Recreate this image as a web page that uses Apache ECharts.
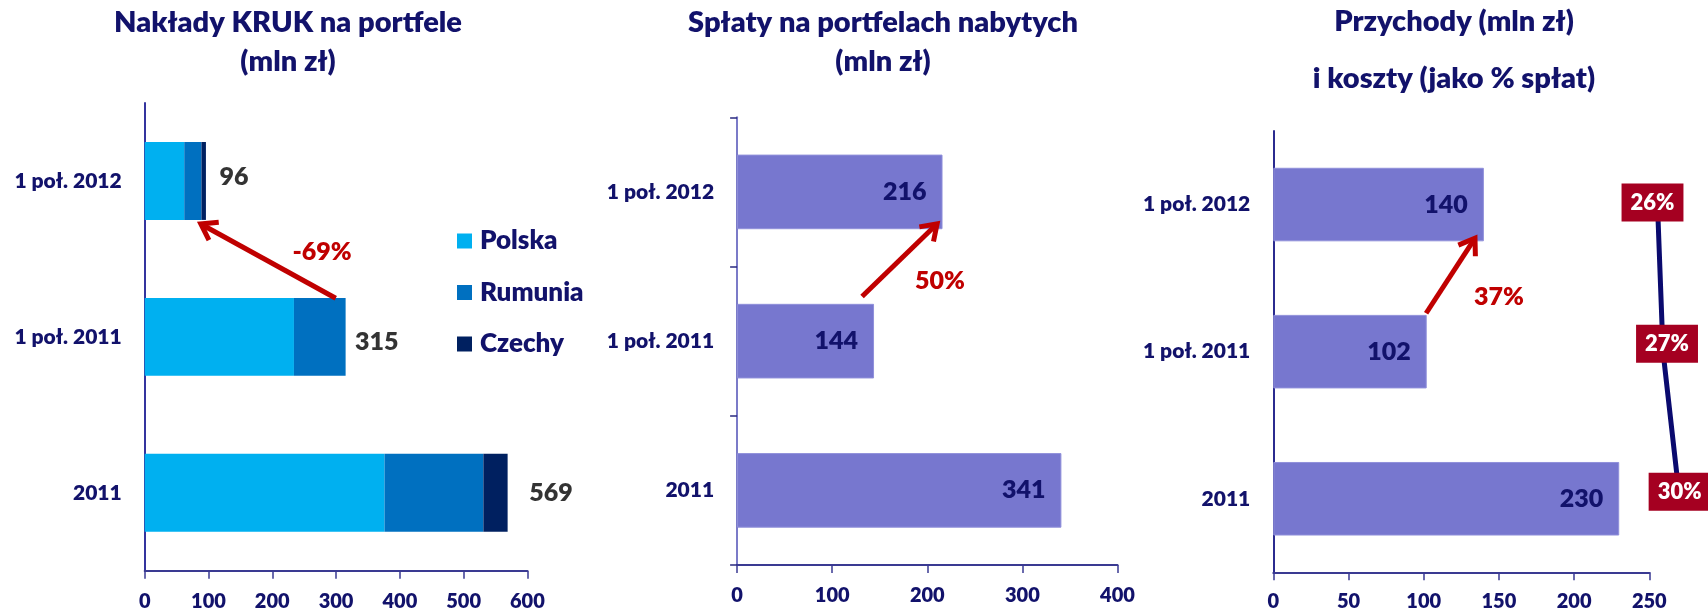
<!DOCTYPE html>
<html>
<head>
<meta charset="utf-8">
<script src="https://cdn.jsdelivr.net/npm/echarts@6/dist/echarts.min.js"></script>
<style>
html,body{margin:0;padding:0;background:#fff;}
#c{width:1708px;height:613px;}
</style>
</head>
<body>
<div id="c"></div>
<script>
// ---- data ----
const categories = ['2011', '1 poł. 2011', '1 poł. 2012'];
const seriesNames = ['Polska', 'Rumunia', 'Czechy'];
const polska = [376, 234, 62];
const rumunia = [155, 81, 27];
const czechy = [38, 0, 7];
const splaty = [341, 144, 216];
const przychody = [230, 102, 140];
const koszty = [30, 27, 26];
const changes = ['-69%', '50%', '37%'];
const titles = [
  ['Nakłady KRUK na portfele', '(mln zł)'],
  ['Spłaty na portfelach nabytych', '(mln zł)'],
  ['Przychody (mln zł)', 'i koszty (jako % spłat)']
];

// ---- styling ----
const NAVY = '#12126b';
const RED = '#c00000';
const FONT = 'Lato';
const W = 800;
const totals = polska.map((v, i) => v + rumunia[i] + czechy[i]);

function arrowSeries(idx, spec) {
  return {
    type: 'custom', xAxisIndex: idx, yAxisIndex: idx, silent: true, z: 20,
    data: [[0, 0]],
    renderItem: function (params, api) {
      const band = api.size([0, 1])[1];
      const p0 = api.coord([spec.from[0], spec.from[1]]); p0[1] += spec.from[2] * band;
      const p1 = api.coord([spec.to[0], spec.to[1]]); p1[1] += spec.to[2] * band;
      const ang = Math.atan2(p1[1] - p0[1], p1[0] - p0[0]);
      const L = 18, a = 0.6;
      const h1 = [p1[0] - L * Math.cos(ang - a), p1[1] - L * Math.sin(ang - a)];
      const h2 = [p1[0] - L * Math.cos(ang + a), p1[1] - L * Math.sin(ang + a)];
      const tip = [p1[0] - 2 * Math.cos(ang), p1[1] - 2 * Math.sin(ang)];
      const lc = api.coord([spec.label[0], spec.label[1]]); lc[1] += spec.label[2] * band;
      return {
        type: 'group', children: [
          { type: 'line', shape: { x1: p0[0], y1: p0[1], x2: tip[0], y2: tip[1] }, style: { stroke: RED, lineWidth: 5 } },
          { type: 'polyline', shape: { points: [h1, p1, h2] }, style: { stroke: RED, lineWidth: 5, fill: null, lineJoin: 'miter' } },
          { type: 'text', x: lc[0], y: lc[1], style: { text: spec.text, fill: RED, font: W + ' 25px ' + FONT, align: 'center', verticalAlign: 'middle' } }
        ]
      };
    }
  };
}

function catAxis(idx, lineColor, ticks) {
  return {
    type: 'category', gridIndex: idx, data: categories,
    axisLine: { lineStyle: { color: lineColor, width: 2 } },
    axisTick: { show: ticks, length: 7, lineStyle: { color: '#2a2a80', width: 1.5 } },
    axisLabel: { color: NAVY, fontWeight: W, fontSize: 21, fontFamily: FONT, margin: 23 },
    splitLine: { show: false }
  };
}
function valAxis(idx, max, interval, margin) {
  return {
    type: 'value', gridIndex: idx, min: 0, max: max, interval: interval,
    axisLine: { show: true, lineStyle: { color: '#3a3a92', width: 2 } },
    axisTick: { show: true, length: 8, lineStyle: { color: '#3a3a92', width: 1.5 } },
    axisLabel: { color: NAVY, fontWeight: W, fontSize: 20, fontFamily: FONT, margin: margin },
    splitLine: { show: false }
  };
}

const titleCfg = [
  { x: 288, y: [23, 62] },
  { x: 883, y: [23, 62] },
  { x: 1454, y: [22, 79] }
];
const titleList = [];
titles.forEach((t, i) => {
  t.forEach((line, j) => {
    titleList.push({
      text: line, left: titleCfg[i].x, top: titleCfg[i].y[j] - 17, textAlign: 'center', padding: 0,
      textStyle: { color: NAVY, fontSize: 29, fontWeight: W, fontFamily: FONT, lineHeight: 34 }
    });
  });
});

const stackColors = ['#00b0f0', '#0070c0', '#002060'];
const stackData = [polska, rumunia, czechy];
const valueLabelStyle = { color: NAVY, fontWeight: W, fontSize: 25, fontFamily: FONT };

const option = {
  animation: false,
  backgroundColor: '#ffffff',
  textStyle: { fontFamily: FONT },
  title: titleList,
  legend: {
    data: seriesNames, orient: 'vertical', left: 452, top: 222,
    itemWidth: 15, itemHeight: 15, itemGap: 23.5, icon: 'rect', selectedMode: false,
    textStyle: { color: NAVY, fontSize: 26, fontWeight: W, fontFamily: FONT, lineHeight: 28, padding: [0, 0, 0, 3] }
  },
  grid: [
    { left: 144.7, top: 103, width: 382.7, height: 467.7 },
    { left: 737.1, top: 117.3, width: 380.4, height: 447.7 },
    { left: 1273.3, top: 131, width: 376, height: 441.3 },
    { left: 1624.35, top: 131, width: 55.25, height: 441.3 }
  ],
  xAxis: [
    valAxis(0, 600, 100, 21),
    valAxis(1, 400, 100, 21),
    valAxis(2, 250, 50, 19),
    { type: 'value', gridIndex: 3, min: 20, max: 30, show: false }
  ],
  yAxis: [
    catAxis(0, '#34349e', false),
    catAxis(1, '#7b7bc8', true),
    catAxis(2, '#2b2b8f', false),
    { type: 'category', gridIndex: 3, data: categories, show: false }
  ],
  series: [
    ...stackData.map((d, i) => ({
      name: seriesNames[i], type: 'bar', stack: 'n', xAxisIndex: 0, yAxisIndex: 0,
      barWidth: '50%', data: d, itemStyle: { color: stackColors[i] }
    })),
    {
      type: 'scatter', xAxisIndex: 0, yAxisIndex: 0, symbolSize: 1, itemStyle: { color: 'rgba(0,0,0,0)' },
      data: totals.map((v, i) => [v, i]),
      label: { show: true, position: 'right', distance: 9, formatter: p => String(p.value[0]), color: '#000', fontWeight: W, fontSize: 25, fontFamily: FONT },
      labelLayout: function (p) {
        const offs = [[12, 0], [0, 5], [4, -4]];
        const o = offs[p.dataIndex];
        return { dx: o[0], dy: o[1] };
      }
    },
    {
      type: 'bar', xAxisIndex: 1, yAxisIndex: 1, barWidth: '50%', data: splaty,
      itemStyle: { color: '#7777cf', borderColor: '#9090da', borderWidth: 1 },
      label: Object.assign({ show: true, position: 'insideRight', distance: 16 }, valueLabelStyle)
    },
    {
      type: 'bar', xAxisIndex: 2, yAxisIndex: 2, barWidth: '50%', data: przychody,
      itemStyle: { color: '#7777cf', borderColor: '#9090da', borderWidth: 1 },
      label: Object.assign({ show: true, position: 'insideRight', distance: 16 }, valueLabelStyle)
    },
    {
      type: 'line', xAxisIndex: 3, yAxisIndex: 3, data: koszty.map((v, i) => [v, i]),
      showSymbol: true, symbolSize: 1, itemStyle: { color: '#0a0a6e' }, clip: false,
      lineStyle: { color: '#0a0a6e', width: 5 }, z: 5,
      label: {
        show: true, position: 'inside', formatter: p => p.value[0] + '%',
        color: '#fff', fontWeight: W, fontSize: 22, fontFamily: FONT, lineHeight: 22,
        backgroundColor: '#a50021', padding: [8, 9, 8, 9]
      },
      labelLayout: function (p) {
        const offs = [[0, -7], [4, -8], [-5, -2]];
        const o = offs[p.dataIndex];
        return { dx: o[0], dy: o[1] };
      }
    },
    arrowSeries(0, { from: [299.5, 1, -0.248], to: [88, 2, 0.276], label: [278, 1, -0.547], text: changes[0] }),
    arrowSeries(1, { from: [131.4, 1, -0.299], to: [210.3, 2, 0.214], label: [213.3, 1, -0.404], text: changes[1] }),
    arrowSeries(2, { from: [101.6, 1, -0.261], to: [134.1, 2, 0.229], label: [150, 1, -0.374], text: changes[2] })
  ]
};

const chart = echarts.init(document.getElementById('c'), null, { renderer: 'canvas' });
chart.setOption(option);
</script>
</body>
</html>
